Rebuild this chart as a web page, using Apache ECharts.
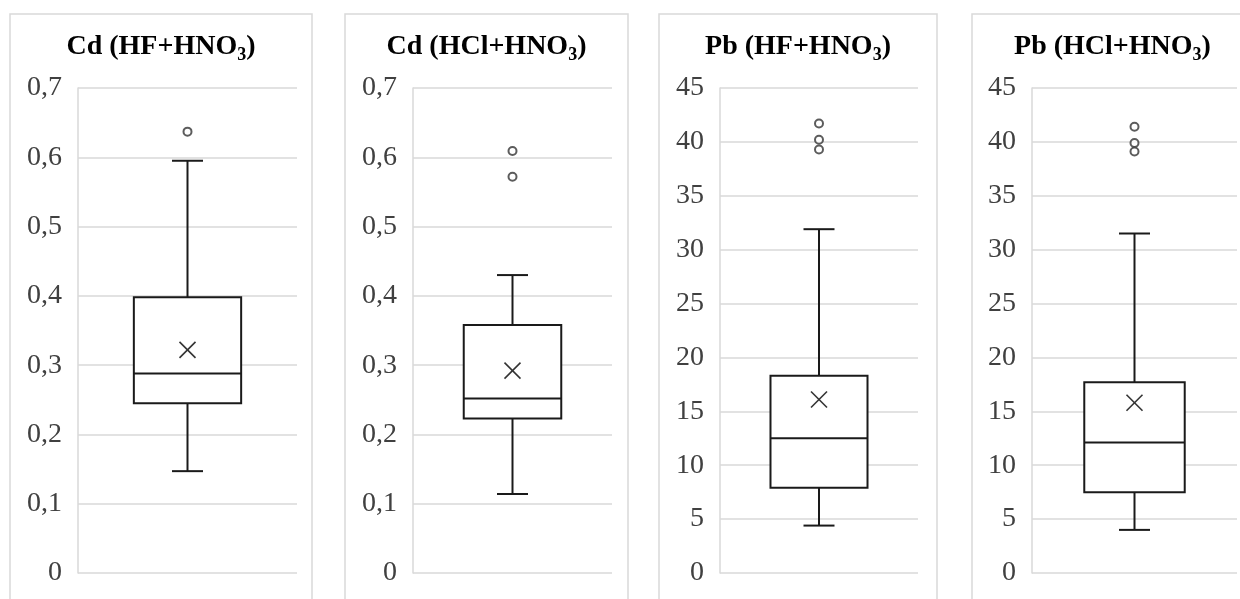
<!DOCTYPE html>
<html><head><meta charset="utf-8">
<script src="https://cdn.jsdelivr.net/npm/echarts@6/dist/echarts.min.js"></script>
<style>html,body{margin:0;padding:0;background:#fff}#c{width:1240px;height:599px}</style>
</head><body><div id="c"></div>
<script>
// ---- data ----
const titles = ['Cd (HF+HNO{s|3})', 'Cd (HCl+HNO{s|3})', 'Pb (HF+HNO{s|3})', 'Pb (HCl+HNO{s|3})'];
const whiskerLow  = [0.147, 0.114, 4.4, 4.0];
const q1          = [0.245, 0.223, 7.9, 7.5];
const median      = [0.288, 0.252, 12.5, 12.1];
const q3          = [0.398, 0.358, 18.3, 17.7];
const whiskerHigh = [0.595, 0.430, 31.9, 31.5];
const means       = [0.322, 0.292, 16.1, 15.8];
const outliers    = [[0.637], [0.609, 0.572], [41.7, 40.2, 39.3], [41.4, 39.9, 39.1]];
const yMax  = [0.7, 0.7, 45, 45];
const yStep = [0.1, 0.1, 5, 5];

// ---- layout ----
const gridLeft  = [78, 413, 720, 1032];
const gridWidth = [219, 199, 198, 205];
const panelBox  = [[10, 302], [345, 283], [659, 278], [972, 281]];
const FONT = "'Liberation Serif', 'Times New Roman', serif";

const chart = echarts.init(document.getElementById('c'), null, {renderer: 'canvas'});

function renderBox(params, api) {
  const c = api.value(0);
  const y = k => api.coord([c, api.value(k)])[1];
  const cx = api.coord([c, api.value(3)])[0];
  const band = api.size([1, 0])[0];
  const hw = band * 0.245, cw = 15.5;
  const yLow = y(1), yQ1 = y(2), yMed = y(3), yQ3 = y(4), yHigh = y(5), yMean = y(6);
  const ls = {stroke: '#1a1a1a', lineWidth: 2};
  const line = (x1, y1, x2, y2, st) => ({type: 'line', shape: {x1, y1, x2, y2}, style: st || ls});
  const m = 8, ms = {stroke: '#333', lineWidth: 1.6};
  return {type: 'group', children: [
    line(cx, yQ3, cx, yHigh), line(cx - cw, yHigh, cx + cw, yHigh),
    line(cx, yQ1, cx, yLow), line(cx - cw, yLow, cx + cw, yLow),
    {type: 'rect', shape: {x: cx - hw, y: yQ3, width: 2 * hw, height: yQ1 - yQ3},
     style: {fill: '#fff', stroke: '#1a1a1a', lineWidth: 2}},
    line(cx - hw, yMed, cx + hw, yMed),
    line(cx - m, yMean - m, cx + m, yMean + m, ms),
    line(cx - m, yMean + m, cx + m, yMean - m, ms)
  ]};
}

const grids = [], xAxes = [], yAxes = [], series = [], graphics = [];
for (let i = 0; i < 4; i++) {
  grids.push({left: gridLeft[i], top: 88, width: gridWidth[i], height: 485});
  xAxes.push({type: 'category', gridIndex: i, data: [titles[i]], show: false,
    axisLine: {show: false}, axisTick: {show: false}, axisLabel: {show: false}});
  yAxes.push({type: 'value', gridIndex: i, min: 0, max: yMax[i], interval: yStep[i],
    axisLine: {show: true, lineStyle: {color: '#d9d9d9', width: 1.5}},
    axisTick: {show: false},
    splitLine: {show: true, lineStyle: {color: '#d9d9d9', width: 1.5}},
    axisLabel: {fontFamily: FONT, fontSize: 28, color: '#404040', margin: 16,
      formatter: v => String(Number(v.toFixed(4))).replace('.', ',')}});
  series.push({type: 'custom', xAxisIndex: i, yAxisIndex: i, renderItem: renderBox,
    encode: {x: 0, y: [1, 2, 3, 4, 5, 6]},
    data: [[0, whiskerLow[i], q1[i], median[i], q3[i], whiskerHigh[i], means[i]]], z: 3});
  series.push({type: 'scatter', xAxisIndex: i, yAxisIndex: i, symbol: 'emptyCircle', symbolSize: 8,
    itemStyle: {color: '#333', borderWidth: 1.4},
    data: outliers[i].map(v => [0, v]), z: 4});
  graphics.push({type: 'rect', shape: {x: panelBox[i][0], y: 14, width: panelBox[i][1], height: 640},
    style: {fill: 'none', stroke: '#d9d9d9', lineWidth: 1.5}, z: -1});
  graphics.push({type: 'text', x: panelBox[i][0] + panelBox[i][1] / 2, y: 30,
    style: {text: titles[i], fontFamily: FONT, fontWeight: 'bold', fontSize: 28, fill: '#000',
      align: 'center', verticalAlign: 'top', lineHeight: 34,
      rich: {s: {fontFamily: FONT, fontWeight: 'bold', fontSize: 18, lineHeight: 17, verticalAlign: 'bottom', fill: '#000'}}}});
}

chart.setOption({
  animation: false,
  backgroundColor: '#fff',
  grid: grids, xAxis: xAxes, yAxis: yAxes, series: series,
  graphic: graphics
});
</script></body></html>
